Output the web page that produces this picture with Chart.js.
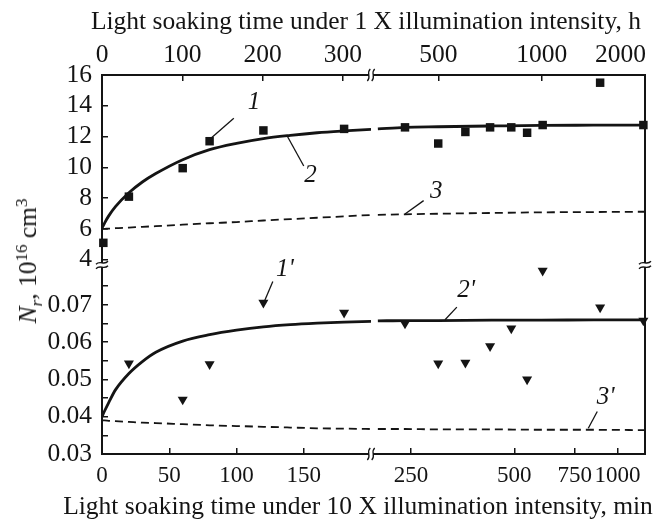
<!DOCTYPE html>
<html>
<head>
<meta charset="utf-8">
<script src="https://cdn.jsdelivr.net/npm/chart.js@4.4.1/dist/chart.umd.min.js"></script>
<style>
  html, body { margin: 0; padding: 0; background: #fff; }
  #wrap { position: relative; width: 656px; height: 527px; }
  .lbl {
    position: absolute;
    font-family: "Liberation Serif", "Times New Roman", serif;
    font-size: 25.5px;
    color: #141414;
    white-space: nowrap;
    transform: translate(-50%, -50%);
  }
  #ytitle { transform: translate(-50%, -50%) rotate(-90deg); }
  #ytitle sub, #ytitle sup { font-size: 17px; line-height: 0; }
</style>
</head>
<body>
<div id="wrap">
  <canvas id="chart" width="656" height="527"></canvas>
  <div class="lbl" style="left:366px; top:21px">Light soaking time under 1 X illumination intensity, h</div>
  <div class="lbl" style="left:358px; top:506px">Light soaking time under 10 X illumination intensity, min</div>
  <div class="lbl" id="ytitle" style="left:28px; top:261px"><i>N</i><sub><i>r</i></sub>, 10<sup>16</sup> cm<sup>3</sup></div>
</div>
<script>
// --- data (time in min at 10 X, Nr in 1e16 cm^-3) ---
const BREAK_MIN = 200;   // linear part of the time axis ends here, log part starts

const pointTime = [1, 20, 60, 80, 120, 180, 240, 300, 360, 425, 490, 545, 605, 890, 1190];
const squareNr  = [5.1, 8.1, 9.95, 11.7, 12.4, 12.5, 12.6, 11.55, 12.3, 12.6, 12.6, 12.25, 12.75, 15.5, 12.75];
const triTime   = [20, 60, 80, 120, 180, 240, 300, 360, 425, 490, 545, 605, 890, 1190];
const triNr     = [0.0543, 0.0446, 0.0541, 0.0706, 0.0679, 0.0650, 0.0543, 0.0545, 0.0589, 0.0637, 0.0500, 0.0792, 0.0693, 0.0658];

const fitTimeLin = [0, 2, 5, 10, 20, 30, 40, 60, 80, 100, 120, 140, 160, 180, 200];
const fitTimeLog = [200, 240, 300, 430, 600, 850, 1200];
const fit2Lin  = [6.05, 6.4, 6.85, 7.45, 8.35, 9.05, 9.6, 10.5, 11.15, 11.56, 11.87, 12.08, 12.25, 12.37, 12.47];
const fit2Log  = [12.5, 12.6, 12.64, 12.69, 12.73, 12.74, 12.75];
const fit3Lin  = [6.0, 6.01, 6.02, 6.05, 6.09, 6.14, 6.18, 6.28, 6.37, 6.45, 6.55, 6.64, 6.73, 6.82, 6.91];
const fit3Log  = [6.92, 6.95, 6.99, 7.04, 7.08, 7.1, 7.12];
const fit2pLin = [0.0400, 0.0416, 0.0438, 0.0472, 0.0516, 0.0548, 0.0573, 0.0603, 0.0620, 0.0632, 0.0641, 0.0647, 0.0651, 0.0654, 0.0656];
const fit2pLog = [0.0657, 0.0658, 0.0658, 0.0659, 0.0659, 0.0660, 0.0660];
const fit3pLin = [0.0390, 0.0390, 0.0389, 0.0388, 0.0386, 0.0384, 0.0383, 0.0380, 0.0377, 0.0375, 0.0373, 0.0371, 0.0369, 0.0368, 0.0367];
const fit3pLog = [0.0367, 0.0367, 0.0366, 0.0366, 0.0365, 0.0365, 0.0364];

// tick values
const bottomLinTicks = [0, 50, 100, 150];
const bottomLogTicks = [250, 500, 750, 1000];
const topLinTicks = [0, 100, 200, 300];
const topLogTicks = [500, 1000, 2000];
const upperTicks = [4, 6, 8, 10, 12, 14, 16];
const lowerTicks = [0.03, 0.035, 0.04, 0.045, 0.05, 0.055, 0.06, 0.065, 0.07, 0.075];

// curve numbers with their leader lines, in data units of the panel they sit in
const notes = [
    { text: '1',  x: 'xl', y: 'yu', at: [113, 14.25], from: [98, 13.19], to: [81, 11.89] },
    { text: '2',  x: 'xl', y: 'yu', at: [155, 9.5],   from: [138, 11.99], to: [150, 10.09] },
    { text: '3',  x: 'xr', y: 'yu', at: [296, 8.47],  from: [272, 7.84], to: [240, 6.97] },
    { text: "1'", x: 'xl', y: 'yl', at: [136, 0.0794], from: [127, 0.0763], to: [121, 0.0712] },
    { text: "2'", x: 'xr', y: 'yl', at: [362, 0.0738], from: [340, 0.0694], to: [314, 0.0660] },
    { text: "3'", x: 'xr', y: 'yl', at: [924, 0.0453], from: [873, 0.0414], to: [822, 0.0369] }
];

const INK = '#141414';
const SERIF = '"Liberation Serif", "Times New Roman", serif';

const zip = (xs, ys) => xs.map((x, i) => ({ x: x, y: ys[i] }));
const lowPart = pts => pts.filter(p => p.x < BREAK_MIN);
const highPart = pts => pts.filter(p => p.x >= BREAK_MIN);

const squares = zip(pointTime, squareNr);
const triangles = zip(triTime, triNr);

function markers(data, xID, yID, style, radius, rotation) {
    return {
        data, xAxisID: xID, yAxisID: yID,
        pointStyle: style, pointRadius: radius, pointRotation: rotation,
        pointBackgroundColor: INK, pointBorderColor: INK, pointBorderWidth: 0,
        showLine: false, clip: false, order: 0
    };
}
function curve(data, xID, yID, dashed) {
    return {
        data, xAxisID: xID, yAxisID: yID,
        showLine: true, pointRadius: 0, borderColor: INK,
        borderWidth: dashed ? 1.8 : 2.8, borderDash: dashed ? [8, 5] : [],
        cubicInterpolationMode: 'monotone', order: 1
    };
}

const setTicks = values => scale => { scale.ticks = values.map(v => ({ value: v })); };
const border = { display: true, color: INK, width: 2 };
const grid = { drawOnChartArea: false, drawTicks: true, tickLength: -6, color: INK, lineWidth: 1.5 };
const tickBase = { color: INK, font: { family: SERIF, size: 25.5 }, autoSkip: false, maxRotation: 0, minRotation: 0 };
const tickBottom = { ...tickBase, font: { family: SERIF, size: 23 }, padding: 14 };
const tickTop = { ...tickBase, padding: 10 };

const fitH = s => { s.height = 40; s.paddingLeft = 0; s.paddingRight = 0; };
const fitLeft = s => { s.width = 72; s.paddingTop = 0; s.paddingBottom = 0; };
const fitRight = s => { s.width = 0; s.paddingTop = 0; s.paddingBottom = 0; };

// draws axis breaks, curve numbers and the last top label
const decorations = {
    id: 'decorations',
    afterDraw(chart) {
        const ctx = chart.ctx;
        const s = chart.scales;
        ctx.save();
        ctx.strokeStyle = INK;
        ctx.fillStyle = INK;

        // curve numbers
        ctx.lineWidth = 1.3;
        ctx.font = 'italic 25px ' + SERIF;
        ctx.textAlign = 'center';
        ctx.textBaseline = 'middle';
        notes.forEach(n => {
            const xs = s[n.x], ys = s[n.y];
            ctx.beginPath();
            ctx.moveTo(xs.getPixelForValue(n.from[0]), ys.getPixelForValue(n.from[1]));
            ctx.lineTo(xs.getPixelForValue(n.to[0]), ys.getPixelForValue(n.to[1]));
            ctx.stroke();
            ctx.fillText(n.text, xs.getPixelForValue(n.at[0]), ys.getPixelForValue(n.at[1]));
        });

        // break marks
        ctx.lineWidth = 1.3;
        const vBreak = (x, y) => {
            ctx.fillStyle = '#fff';
            ctx.fillRect(x - 2, y - 2, 4, 4);
            [-2.2, 2.2].forEach(dx => {
                ctx.beginPath();
                ctx.moveTo(x + dx - 1.5, y + 6);
                ctx.bezierCurveTo(x + dx + 3, y + 2, x + dx - 3, y - 2, x + dx + 1.5, y - 6);
                ctx.stroke();
            });
        };
        const hBreak = (x, y) => {
            ctx.fillStyle = '#fff';
            ctx.fillRect(x - 2, y - 2, 4, 4);
            [-2.2, 2.2].forEach(dy => {
                ctx.beginPath();
                ctx.moveTo(x - 6, y + dy + 1.5);
                ctx.bezierCurveTo(x - 2, y + dy - 3, x + 2, y + dy + 3, x + 6, y + dy - 1.5);
                ctx.stroke();
            });
        };
        vBreak(s.xl.right, s.xl.top);
        vBreak(s.tl.right, s.tl.bottom);
        hBreak(s.yu.right, s.yu.bottom);
        hBreak(s.ru.left, s.ru.bottom);

        // "2000" sits left of its tick, flush with the frame
        const t = s.tr.options.ticks;
        const lh = t.font.size * 1.2;
        ctx.fillStyle = INK;
        ctx.font = t.font.size + 'px ' + SERIF;
        ctx.textAlign = 'right';
        ctx.fillText('2000', s.tr.getPixelForValue(2000) + 1,
            s.tr.bottom - (grid.tickLength + t.padding) - lh / 2);
        ctx.restore();
    }
};

new Chart(document.getElementById('chart'), {
    type: 'scatter',
    data: {
        datasets: [
            markers(lowPart(squares), 'xl', 'yu', 'rect', 6, 0),
            markers(highPart(squares), 'xr', 'yu', 'rect', 6, 0),
            markers(lowPart(triangles), 'xl', 'yl', 'triangle', 5.8, 180),
            markers(highPart(triangles), 'xr', 'yl', 'triangle', 5.8, 180),
            curve(zip(fitTimeLin, fit2Lin), 'xl', 'yu', false),
            curve(zip(fitTimeLog, fit2Log), 'xr', 'yu', false),
            curve(zip(fitTimeLin, fit3Lin), 'xl', 'yu', true),
            curve(zip(fitTimeLog, fit3Log), 'xr', 'yu', true),
            curve(zip(fitTimeLin, fit2pLin), 'xl', 'yl', false),
            curve(zip(fitTimeLog, fit2pLog), 'xr', 'yl', false),
            curve(zip(fitTimeLin, fit3pLin), 'xl', 'yl', true),
            curve(zip(fitTimeLog, fit3pLog), 'xr', 'yl', true)
        ]
    },
    options: {
        responsive: false,
        animation: false,
        layout: { padding: { left: 30, right: 11, top: 35, bottom: 33 } },
        plugins: { legend: { display: false }, tooltip: { enabled: false } },
        scales: {
            xl: {
                type: 'linear', axis: 'x', position: 'bottom', stack: 'b', stackWeight: 269, weight: 1,
                min: 0, max: 200, bounds: 'data', border, grid,
                ticks: { ...tickBottom, callback: v => String(v) },
                afterBuildTicks: setTicks(bottomLinTicks), afterFit: fitH
            },
            xr: {
                type: 'logarithmic', axis: 'x', position: 'bottom', stack: 'b', stackWeight: 274, weight: 2,
                min: 191, max: 1203, bounds: 'data', border, grid,
                ticks: { ...tickBottom, callback: v => String(v) },
                afterBuildTicks: setTicks(bottomLogTicks), afterFit: fitH
            },
            tl: {
                type: 'linear', axis: 'x', position: 'top', stack: 't', stackWeight: 269, weight: 2,
                min: 0, max: 335, bounds: 'data', border, grid,
                ticks: { ...tickTop, callback: v => String(v) },
                afterBuildTicks: setTicks(topLinTicks), afterFit: fitH
            },
            tr: {
                type: 'logarithmic', axis: 'x', position: 'top', stack: 't', stackWeight: 274, weight: 1,
                min: 318, max: 2000, bounds: 'data', border, grid,
                ticks: { ...tickTop, callback: v => (v === 2000 ? '' : String(v)) },
                afterBuildTicks: setTicks(topLogTicks), afterFit: fitH
            },
            yu: {
                type: 'linear', axis: 'y', position: 'left', stack: 'l', stackWeight: 190, weight: 2,
                min: 3.66, max: 16, bounds: 'data', border, grid,
                ticks: { ...tickBase, padding: 16, callback: v => String(v) },
                afterBuildTicks: setTicks(upperTicks), afterFit: fitLeft
            },
            yl: {
                type: 'linear', axis: 'y', position: 'left', stack: 'l', stackWeight: 189, weight: 1,
                min: 0.03, max: 0.0807, bounds: 'data', border, grid,
                ticks: { ...tickBase, padding: 16,
                    callback: v => (Math.round(v * 1000) % 10 === 0 ? v.toFixed(2) : '') },
                afterBuildTicks: setTicks(lowerTicks), afterFit: fitLeft
            },
            ru: {
                type: 'linear', axis: 'y', position: 'right', stack: 'r', stackWeight: 190, weight: 1,
                min: 3.66, max: 16, border, grid: { display: false }, ticks: { display: false },
                afterFit: fitRight
            },
            rl: {
                type: 'linear', axis: 'y', position: 'right', stack: 'r', stackWeight: 189, weight: 2,
                min: 0.03, max: 0.0807, border, grid: { display: false }, ticks: { display: false },
                afterFit: fitRight
            }
        }
    },
    plugins: [decorations]
});
</script>
</body>
</html>
